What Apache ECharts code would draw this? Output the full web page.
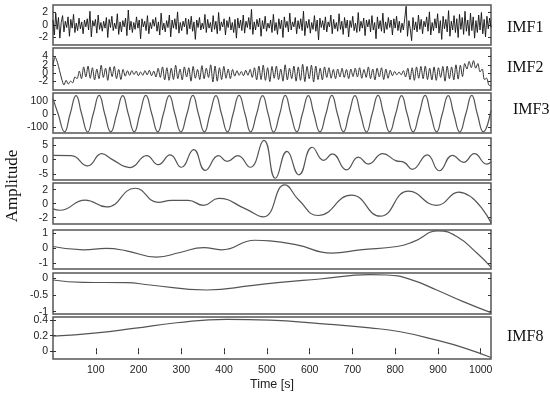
<!DOCTYPE html>
<html><head><meta charset="utf-8">
<script src="https://cdn.jsdelivr.net/npm/echarts@6/dist/echarts.min.js"></script>
<style>html,body{margin:0;padding:0;background:#fff}#c{width:550px;height:397px}</style>
</head><body><div id="c"></div>
<script>
// ---- data ----
const recordLength = 1024;
const timeTicks = [100,200,300,400,500,600,700,800,900,1000];

// IMF1: evenly sampled over the record
const imf1 = [0.8,-1.6,1.9,-0.7,1.2,-2.1,0.4,1.5,-1.1,0.6,-0.4,1.3,-1.8,0.9,-0.5,1.7,-1.2,0.3,-0.9,1.1,
-0.6,0.5,-1.4,0.8,-0.3,1.0,-0.8,2.2,-1.9,0.7,-0.2,0.9,-1.3,1.6,-0.7,0.4,-1.0,0.6,-0.5,1.2,
-2.0,0.9,-0.4,1.4,-0.9,0.3,-0.6,1.8,-1.5,0.5,-1.1,0.7,-0.3,1.1,-1.7,2.4,-0.8,0.6,-1.2,0.4,
-0.7,1.3,-0.5,0.8,-2.2,1.0,-0.3,0.6,-0.9,1.5,-1.4,0.4,-0.6,0.9,-0.2,1.2,-1.0,0.5,-1.6,1.9,
-0.8,0.3,-1.1,0.7,-0.4,1.6,-1.9,0.8,-0.5,1.0,-0.7,2.1,-1.3,0.4,-0.9,0.6,-0.3,1.1,-1.5,0.9,
-0.6,1.4,-1.0,0.5,-2.3,0.8,-0.4,1.2,-0.8,0.3,-0.6,1.7,-1.2,0.9,-0.5,0.4,-1.1,1.5,-0.7,0.6,
-1.4,2.0,-0.9,0.5,-0.3,1.0,-1.6,0.7,-0.4,1.3,-0.8,0.4,-1.2,0.9,-2.1,1.1,-0.5,0.8,-0.9,1.6,
-1.3,0.6,-0.4,1.2,-0.7,2.5,-1.5,0.5,-0.8,0.9,-0.3,1.1,-1.8,0.7,-0.6,1.4,-1.0,0.3,-0.5,0.8,
-1.2,1.7,-0.9,0.4,-1.5,1.0,-0.6,0.8,-2.0,1.3,-0.4,0.6,-1.1,1.9,-0.8,0.5,-0.3,1.2,-1.4,0.7,
-0.6,1.0,-0.9,2.2,-1.7,0.6,-0.5,0.9,-1.3,0.4,-0.7,1.5,-1.0,0.8,-2.4,1.1,-0.4,0.7,-0.8,1.3,
-1.1,0.5,-0.3,1.6,-1.4,0.9,-0.6,0.4,-1.0,1.8,-0.7,0.6,-1.5,1.2,-0.5,0.8,-1.9,0.7,-0.4,1.4,
-0.9,0.3,-1.2,2.0,-1.0,0.6,-0.5,1.1,-1.7,0.8,-0.3,0.9,-1.1,1.5,-0.8,0.4,-2.2,1.3,-0.6,0.7,
-1.0,1.9,-1.3,0.5,-0.7,1.2,-0.4,0.8,-1.6,1.0,-0.5,1.4,-0.9,0.6,-1.2,0.3,-0.8,1.1,3.0,-1.8,
0.7,-0.6,-2.5,1.2,-0.8,0.5,-1.1,1.6,-0.7,0.9,-1.4,0.6,-0.3,1.3,-1.0,2.1,-1.6,0.4,-0.9,1.0,
-0.5,1.8,-1.3,0.7,-2.3,1.4,-0.6,0.9,-1.1,2.3,-1.8,0.6,-0.8,1.5,-1.2,1.0,-2.0,1.7,-0.7,1.2,
-1.5,2.2,-1.0,0.8,-1.7,1.9,-0.9,1.3,-2.1,0.7,-1.2,1.6,-0.8,2.0,-1.4,0.9,-1.9,1.4,-0.6,1.1,
-0.4];

// IMF2: evenly sampled over the record
const imf2 = [2.0,3.8,2.6,0.6,-1.4,-2.8,-1.7,-2.6,-1.9,-2.3,-0.9,-1.3,
0.5,-1.3,1.5,-0.9,1.7,-1.2,1.3,-1.6,1.0,-1.3,1.9,-1.0,1.2,-1.7,1.5,-0.8,1.6,-1.3,0.9,-1.5,
0.9,-0.7,0.6,-0.5,0.6,-0.3,0.5,-0.6,0.3,-0.5,0.6,-0.4,0.7,-0.6,0.5,-0.9,1.2,-1.0,1.5,-1.6,
1.3,-1.7,1.2,-1.5,1.9,-1.3,1.0,-1.6,1.5,-0.9,1.3,-1.9,1.6,-1.2,0.9,-1.5,1.8,-1.3,1.2,-1.0,
2.0,-2.1,1.7,-1.9,1.3,-1.5,1.6,-1.2,1.0,-1.3,0.9,-0.7,0.6,-0.5,0.4,-0.6,0.7,-0.5,0.9,-1.0,
1.3,-1.6,1.7,-1.5,1.9,-1.7,1.3,-2.0,1.6,-1.2,1.7,-1.5,1.0,-1.9,2.0,-1.6,1.2,-1.3,1.7,-1.9,
1.5,-1.7,2.1,-2.0,1.6,-1.3,1.9,-2.1,1.7,-1.5,1.2,-1.6,1.5,-1.0,1.3,-1.2,0.9,-1.3,1.0,-0.9,
1.2,-1.0,0.9,-1.3,1.0,-0.8,1.2,-0.9,1.3,-1.2,0.9,-1.0,1.5,-1.3,1.0,-1.6,1.2,-0.9,1.3,-1.5,
1.0,-1.2,0.7,-0.6,0.4,-0.4,0.3,-0.4,0.6,-0.9,1.2,-1.5,1.3,-1.7,1.5,-1.2,1.6,-1.3,1.7,-1.5,
1.2,-1.6,1.5,-1.7,1.3,-1.0,1.6,-1.9,1.7,-1.3,1.5,-1.6,2.0,-1.4,1.9,-0.8,2.3,1.0,2.8,1.3,
3.0,1.2,2.3,0.3,1.0,-1.5,-1.2,-2.8,-3.0];

// IMF3: peaks, zero crossings, troughs
const imf3Time = [0,12,27,40,54,67,81,94,108,121,135,149,163,176,190,203,217,231,245,258,
272,285,299,313,327,340,354,367,381,394,408,421,435,449,462,476,490,503,516,530,
543,556,570,583,597,610,624,638,652,665,679,692,706,719,733,746,760,773,787,801,
815,828,842,856,870,883,897,910,924,937,951,965,979,992,1006,1024];
const imf3 = [115,0,-133,0,138,0,-135,0,139,0,-133,0,137,0,-134,0,139,0,-133,0,
138,0,-135,0,139,0,-134,0,138,0,-133,0,139,0,-134,0,138,0,-135,0,
139,0,-133,0,138,0,-134,0,139,0,-133,0,138,0,-135,0,139,0,-134,0,
138,0,-133,0,139,0,-134,0,138,0,-135,0,139,0,-133,30];

const imf4Time = [0,43,81,114,137,180,219,246,274,300,329,356,387,407,432,461,493,520,547,575,
606,633,653,686,714,737,771,801,821,840,875,903,934,960,985,1014,1024];
const imf4 = [1.5,1.4,-2.1,2.1,0.2,-2.7,1.4,-1.7,1.7,-2.6,3.5,-3.7,1.4,-0.6,1.4,-2.6,6.7,-6.4,2.9,-5.2,
4.3,-0.2,2.0,-3.5,0.9,-1.5,2.1,-0.3,-0.9,-3.3,1.7,-3.8,1.5,-0.9,2.1,-1.5,-0.8];

const imf5Time = [0,16,75,125,192,246,277,316,352,387,449,492,542,574,620,698,765,831,897,948,1024];
const imf5 = [-0.75,-0.94,0.52,-0.47,2.2,0.19,0.47,0.47,-0.23,0.75,-0.7,-1.88,2.68,0.56,-1.69,1.22,-1.78,1.78,-0.23,1.64,-2.72];

const imf6Time = [0,71,125,172,242,297,352,394,472,507,570,652,718,804,843,901,944,991,1024];
const imf6 = [0.11,-0.11,-0.02,-0.18,-0.6,-0.29,0.04,-0.11,0.53,0.49,0.22,-0.33,-0.11,0.11,0.44,1.16,0.78,-0.33,-1.27];

const imf7Time = [0,71,172,227,359,468,531,624,741,780,835,897,959,1024];
const imf7 = [-0.05,-0.12,-0.13,-0.2,-0.35,-0.21,-0.12,-0.02,0.11,0.1,-0.03,-0.35,-0.7,-1.03];

const imf8Time = [0,102,188,289,406,507,624,741,812,897,959,1024];
const imf8 = [0.194,0.237,0.293,0.366,0.41,0.40,0.355,0.3,0.25,0.142,0.047,-0.08];

const sideLabels = ['IMF1','IMF2','IMF3','','','','','IMF8'];
const yTickValues = [[-2,0,2],[-2,0,2,4],[-100,0,100],[-5,0,5],[-2,0,2],[-1,0,1],[-1,-0.5,0],[0,0.2,0.4]];
// label sets drawn on separate (overlaid) axes so close labels are not dropped
const yLabelSets = [[[-2,0,2]],[[4,0],[2,-2]],[[-100,0,100]],[[-5,0,5]],[[-2,0,2]],[[-1,0,1]],[[-1,-0.5,0]],[[0,0.2,0.4]]];
const yMins = [-3.2,-4,-142,-7,-2.9,-1.4,-1.07,-0.1];
const yMaxs = [3.2,6,157,7.5,2.95,1.22,0.16,0.44];

// ---- layout / style ----
const panelTop = [5,48,93,138,183,230,273,317];
const panelHeight = [40,42,40,42,41,39,41,42];
const sideLabelY = [28,68,110,0,0,0,0,337];
const sideLabelX = [507,507,513,0,0,0,0,507];
const lineColors = ['#111','#333','#555','#555','#555','#555','#555','#555'];
const lineWidths = [0.9,1,1.2,1.2,1.2,1.2,1.2,1.2];

function evenSeries(vals){
  const step = recordLength/(vals.length-1);
  return vals.map((v,i)=>[i*step, v]);
}
function pairSeries(ts, vals){ return ts.map((t,i)=>[t, vals[i]]); }

const seriesData = [
  evenSeries(imf1), evenSeries(imf2),
  pairSeries(imf3Time, imf3), pairSeries(imf4Time, imf4),
  pairSeries(imf5Time, imf5), pairSeries(imf6Time, imf6),
  pairSeries(imf7Time, imf7), pairSeries(imf8Time, imf8)
];
const smoothness = [false, 0.3, 0.5, 0.5, 0.5, 0.5, 0.5, 0.5];

const labelFont = {fontSize:10.5, color:'#222', fontFamily:'Liberation Sans, Arial, sans-serif'};
const tickStyle = {color:'#333', width:1};
const plainNum = v => String(v);

const grids=[], xAxes=[], yAxes=[], series=[];
for(let i=0;i<8;i++){
  grids.push({left:53, right:59, top:panelTop[i], height:panelHeight[i], show:true,
    borderColor:'#555', borderWidth:1.5, backgroundColor:'transparent', containLabel:false});
  const last = i===7;
  xAxes.push({type:'value', gridIndex:i, min:0, max:recordLength, show:last,
    position:'bottom',
    axisLine:{show:false}, splitLine:{show:false},
    axisTick:{show:true, inside:true, length:3, customValues:timeTicks, lineStyle:tickStyle},
    axisLabel:Object.assign({show:true, customValues:timeTicks, margin:6, formatter:plainNum, hideOverlap:false}, labelFont),
    name: last ? 'Time [s]' : '', nameLocation:'middle', nameGap:19,
    nameTextStyle:{fontSize:12.5, color:'#222', fontFamily:'Liberation Sans, Arial, sans-serif'}
  });
  const mainY = yAxes.length;
  yAxes.push({type:'value', gridIndex:i, min:yMins[i], max:yMaxs[i], position:'left',
    axisLine:{show:false}, splitLine:{show:false},
    axisTick:{show:true, inside:true, length:3, customValues:yTickValues[i], lineStyle:tickStyle},
    axisLabel:Object.assign({show:true, customValues:yLabelSets[i][0], margin:5, formatter:plainNum, hideOverlap:false}, labelFont)
  });
  for(let k=1;k<yLabelSets[i].length;k++){
    yAxes.push({type:'value', gridIndex:i, min:yMins[i], max:yMaxs[i], position:'left', offset:0,
      axisLine:{show:false}, splitLine:{show:false}, axisTick:{show:false},
      axisLabel:Object.assign({show:true, customValues:yLabelSets[i][k], margin:5, formatter:plainNum, hideOverlap:false}, labelFont)
    });
  }
  yAxes.push({type:'value', gridIndex:i, min:yMins[i], max:yMaxs[i], position:'right',
    axisLine:{show:false}, splitLine:{show:false},
    axisTick:{show:true, inside:true, length:3, customValues:yTickValues[i], lineStyle:tickStyle},
    axisLabel:{show:false}
  });
  series.push({type:'line', xAxisIndex:i, yAxisIndex:mainY, data:seriesData[i],
    showSymbol:false, symbol:'none', smooth:smoothness[i], sampling:null, clip:true,
    lineStyle:{color:lineColors[i], width:lineWidths[i]}, silent:true});
}
// top ticks of the bottom panel
xAxes.push({type:'value', gridIndex:7, min:0, max:recordLength, position:'top',
  axisLine:{show:false}, splitLine:{show:false},
  axisTick:{show:true, inside:true, length:3, customValues:timeTicks, lineStyle:tickStyle},
  axisLabel:{show:false}});

const graphics = [{type:'text', x:13, y:186, rotation:Math.PI/2,
  style:{text:'Amplitude', font:'17px "Liberation Serif", "Times New Roman", serif', fill:'#111',
  textAlign:'center', textVerticalAlign:'middle'}}];
sideLabels.forEach((s,i)=>{ if(!s) return;
  graphics.push({type:'text', x:sideLabelX[i], y:sideLabelY[i],
    style:{text:s, font:'16px "Liberation Serif", "Times New Roman", serif', fill:'#111',
    textAlign:'left', textVerticalAlign:'middle'}});
});

const chart = echarts.init(document.getElementById('c'), null, {renderer:'canvas'});
chart.setOption({animation:false, backgroundColor:'#fff',
  grid:grids, xAxis:xAxes, yAxis:yAxes, series:series, graphic:graphics});
</script></body></html>
